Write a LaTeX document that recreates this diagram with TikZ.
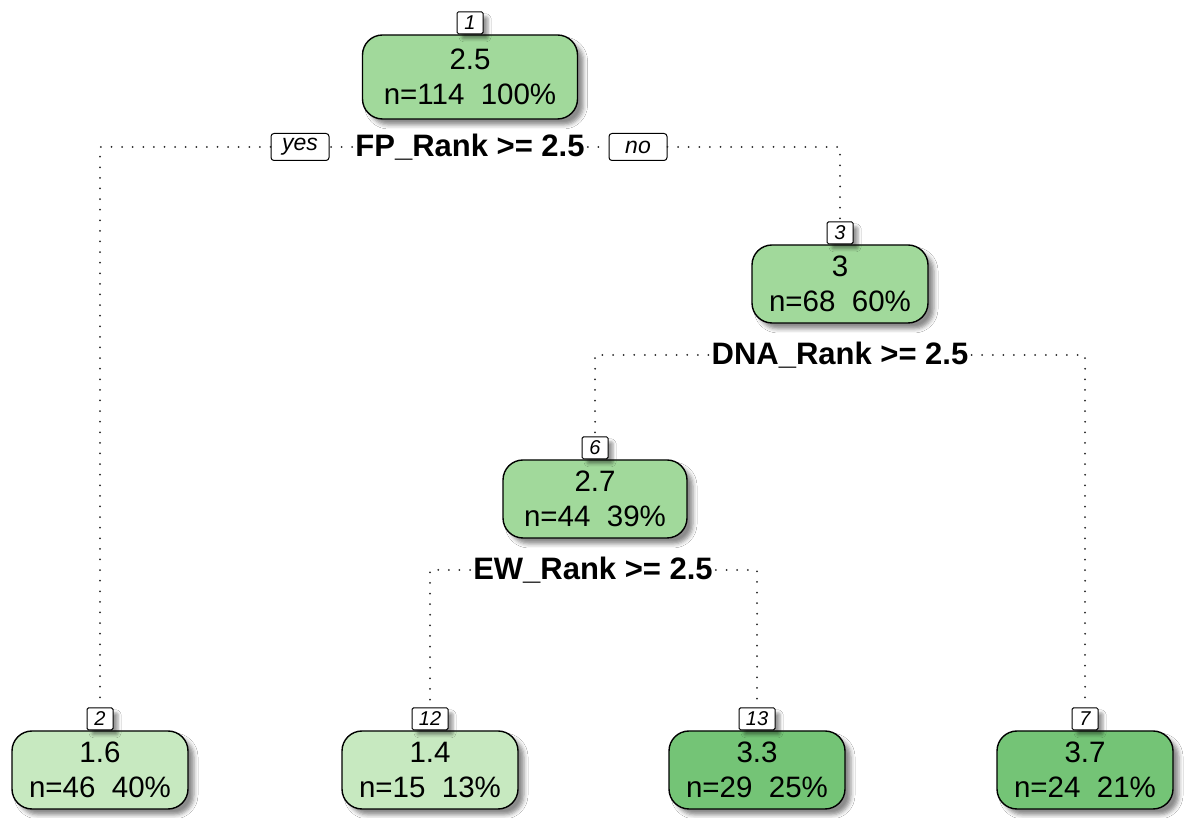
\documentclass[tikz,border=0pt]{standalone}
\usepackage{fontspec}
\setmainfont{Liberation Sans}
\usetikzlibrary{shadows.blur}
\definecolor{gmid}{HTML}{A1D99B}
\definecolor{glight}{HTML}{C7E9C0}
\definecolor{gdark}{HTML}{74C476}
\tikzset{
  leaf/.style={draw=black, line width=1.4pt, rounded corners=20pt,
    inner xsep=14pt, inner ysep=4pt, minimum width=176pt, minimum height=78pt,
    align=center, font=\fontsize{29.5}{35}\selectfont,
    blur shadow={shadow xshift=6pt, shadow yshift=-6pt, shadow blur radius=4pt, shadow opacity=45}},
  numbox/.style={draw=black, fill=white, line width=1pt, rounded corners=1.5pt,
    inner sep=1pt, minimum width=26pt, minimum height=22pt, anchor=south,
    font=\fontsize{20}{20}\itshape\selectfont,
    blur shadow={shadow xshift=5pt, shadow yshift=-5pt, shadow blur radius=3pt, shadow opacity=40}},
  tagbox/.style={draw=black, fill=white, line width=1pt, rounded corners=3pt,
    inner sep=1pt, minimum width=58pt, minimum height=27pt,
    font=\fontsize{23}{23}\itshape\selectfont},
  splittext/.style={fill=white, inner xsep=3pt, inner ysep=2pt, font=\fontsize{31}{31}\bfseries\selectfont},
  link/.style={draw=black!85, line width=2pt, line cap=round, dash pattern=on 0pt off 10.6pt}
}
\begin{document}
\begin{tikzpicture}[x=1pt,y=1pt]
\useasboundingbox (0,0) rectangle (1185,818);
\fill[white] (0,0) rectangle (1185,818);

% tree nodes
\node[leaf, fill=gmid, minimum width=215pt, minimum height=84pt] (n1) at (470,741) {2.5\\n=114~~100\%};
\node[numbox] (l1) at (n1.north) {1};

\node[leaf, fill=gmid] (n3) at (840,534) {3\\n=68~~60\%};
\node[numbox] (l3) at (n3.north) {3};

\node[leaf, fill=gmid, minimum width=184pt] (n6) at (595,319) {2.7\\n=44~~39\%};
\node[numbox] (l6) at (n6.north) {6};

\node[leaf, fill=glight] (n2) at (100,48) {1.6\\n=46~~40\%};
\node[numbox] (l2) at (n2.north) {2};

\node[leaf, fill=glight] (n12) at (430,48) {1.4\\n=15~~13\%};
\node[numbox, minimum width=36pt] (l12) at (n12.north) {12};

\node[leaf, fill=gdark] (n13) at (757,48) {3.3\\n=29~~25\%};
\node[numbox, minimum width=36pt] (l13) at (n13.north) {13};

\node[leaf, fill=gdark] (n7) at (1085,48) {3.7\\n=24~~21\%};
\node[numbox] (l7) at (n7.north) {7};

% split labels
\node[splittext] (s1) at (470,671) {FP\_Rank >= 2.5};
\node[tagbox] (yes) at (300,671) {yes};
\node[tagbox] (no) at (638,671) {no};
\node[splittext] (s3) at (840,463) {DNA\_Rank >= 2.5};
\node[splittext] (s6) at (593,248) {EW\_Rank >= 2.5};

% dotted connectors
\draw[link] (yes.west) -| (l2.north);
\draw[link] (s1.west) -- (yes.east);
\draw[link] (s1.east) -- (no.west);
\draw[link] (no.east) -| (l3.north);
\draw[link] (s3.west) -| (l6.north);
\draw[link] (s3.east) -| (l7.north);
\draw[link] (s6.west) -| (l12.north);
\draw[link] (s6.east) -| (l13.north);
\end{tikzpicture}
\end{document}
